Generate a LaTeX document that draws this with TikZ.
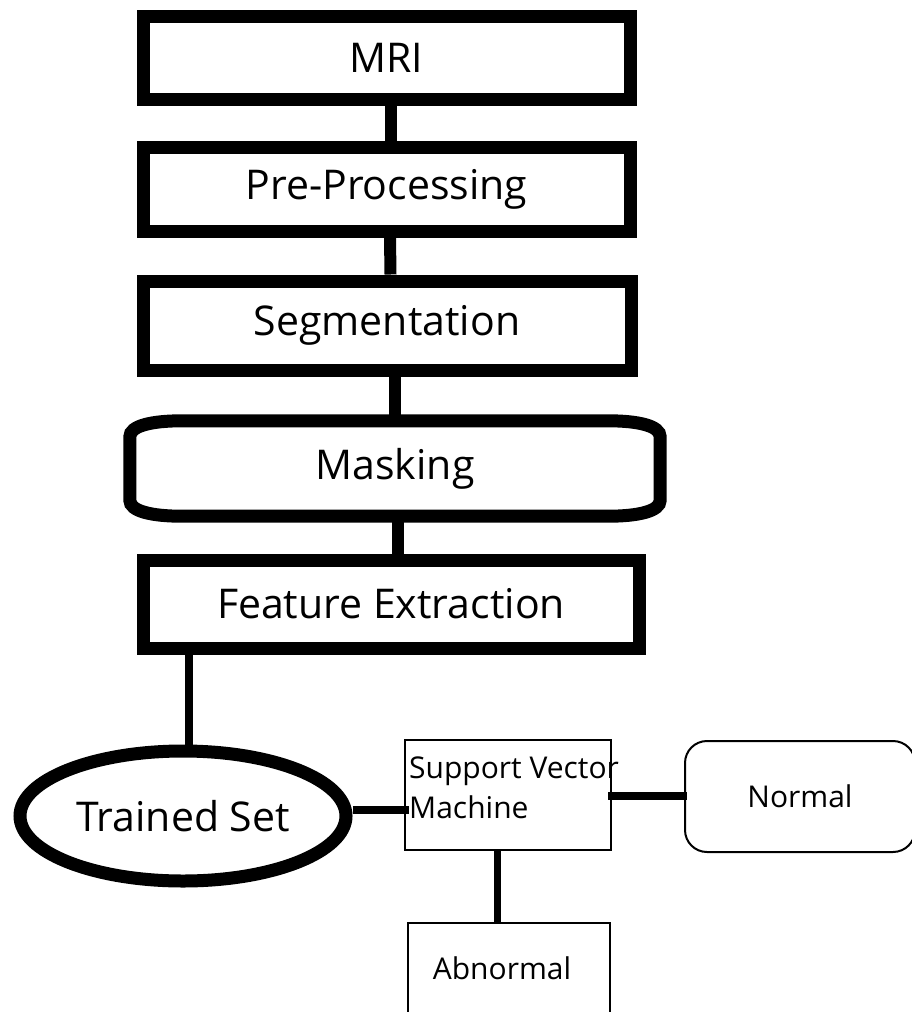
\documentclass[tikz,border=0pt]{standalone}
\usepackage{fontspec}
\setmainfont{Open Sans}
\usetikzlibrary{shapes.geometric,calc}
\begin{document}
\begin{tikzpicture}[x=1pt,y=-1pt,
  big/.style={font=\fontsize{41}{49}\selectfont},
  small/.style={font=\fontsize{30}{40}\selectfont},
  stage/.style={draw, line width=13pt, rectangle, big, inner sep=0pt},
  thickconn/.style={line width=12pt},
  conn/.style={line width=8pt},
  thinbox/.style={draw, line width=2pt, inner sep=0pt},
]
\clip (0,0) rectangle (912,1012);
\fill[white] (0,0) rectangle (912,1012);

% main pipeline
\node[stage, minimum width=487pt, minimum height=83pt] (mri) at (386.5,57.5) {MRI};
\node[stage, minimum width=487pt, minimum height=84pt] (pre) at (386.5,189) {Pre-Processing};
\node[stage, minimum width=488pt, minimum height=89pt] (seg) at (387,325.5) {Segmentation};
\node[big, inner sep=0pt, minimum width=530pt, minimum height=95pt] (mask) at (395,468.5) {Masking};
\draw[line width=13pt]
  let \p1=(mask.north west), \p2=(mask.south east) in
  (\x1+52pt,\y1) -- (\x2-52pt,\y1)
  .. controls (\x2-22pt,\y1) and (\x2,\y1-5pt) .. (\x2,\y1-16pt)
  -- (\x2,\y2+16pt)
  .. controls (\x2,\y2+5pt) and (\x2-22pt,\y2) .. (\x2-52pt,\y2)
  -- (\x1+52pt,\y2)
  .. controls (\x1+22pt,\y2) and (\x1,\y2+5pt) .. (\x1,\y2+16pt)
  -- (\x1,\y1-16pt)
  .. controls (\x1,\y1-5pt) and (\x1+22pt,\y1) .. (\x1+52pt,\y1) -- cycle;
\node[stage, minimum width=496pt, minimum height=88pt] (fe) at (391,604) {Feature Extraction};

% classification stage
\node[ellipse, draw, line width=13pt, inner sep=0pt, minimum width=326pt, minimum height=130pt, big] (trained) at (183,816) {Trained Set};
\node[thinbox, minimum width=206pt, minimum height=110pt] (svm) at (508,794.5) {};
\node[small, align=left, anchor=north west, inner sep=0pt] (svmtext) at (409,757) {Support Vector\\Machine};
\node[thinbox, rounded corners=22pt, minimum width=230pt, minimum height=111pt, small] (normal) at (800,796.5) {Normal};
\node[thinbox, minimum width=202pt, minimum height=117pt] (abn) at (509,981.5) {};
\node[small, anchor=base, inner sep=0pt] (abntext) at (502,979) {Abnormal};

% connectors
\draw[thickconn] ([xshift=4.5pt]mri.south) -- ([xshift=4.5pt]pre.north);
\draw[thickconn] ([xshift=3.5pt]pre.south) -- ([xshift=3.5pt]seg.north);
\coordinate (c1) at ([xshift=8pt]seg.south);
\draw[thickconn] (c1) -- (c1 |- mask.north);
\coordinate (c2) at ([xshift=3pt]mask.south);
\draw[thickconn] (c2) -- (c2 |- fe.north);
\coordinate (t1) at ([xshift=6pt]trained.north);
\draw[conn] (t1 |- fe.south) -- (t1);
\coordinate (t2) at ([yshift=6pt]trained.east);
\draw[conn, shorten >=-5pt] (t2) -- (t2 -| svm.west);
\coordinate (s1) at ([yshift=-1.5pt]svm.east);
\draw[conn, shorten <=-4pt, shorten >=-3pt] (s1) -- (s1 -| normal.west);
\coordinate (s2) at ([xshift=-11pt]svm.south);
\draw[line width=7pt, shorten >=-2pt] (s2) -- (s2 |- abn.north);
\end{tikzpicture}
\end{document}
